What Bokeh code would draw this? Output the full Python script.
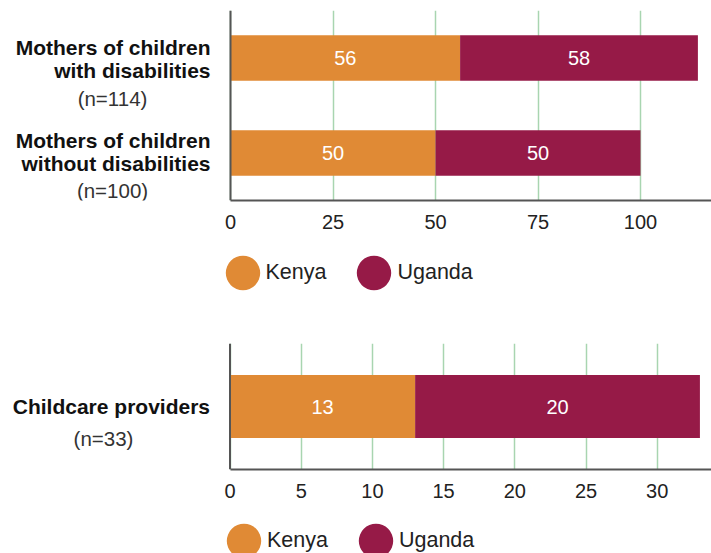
from bokeh.plotting import figure
from bokeh.models import Range1d, Label, Legend, LegendItem, ColumnDataSource, FixedTicker, Span
from bokeh.layouts import column
from bokeh.embed import file_html
from bokeh.resources import INLINE
from bokeh.core.properties import value

# ---- data ----
series = ["Kenya", "Uganda"]
colors = ["#E08A35", "#961A47"]

top_groups = ["Mothers of children|with disabilities", "Mothers of children|without disabilities"]
top_n = ["(n=114)", "(n=100)"]
top_kenya = [56, 50]
top_uganda = [58, 50]
top_ticks = [0, 25, 50, 75, 100]

bot_groups = ["Childcare providers"]
bot_n = ["(n=33)"]
bot_kenya = [13]
bot_uganda = [20]
bot_ticks = [0, 5, 10, 15, 20, 25, 30]

FONT = "Liberation Sans"
GRID = "#A8D5B0"
AXIS = "#555555"
W = 711


def make_chart(groups, ns, kenya, uganda, ticks, x0_px, px_per_unit, height, mb_top, mb_bottom,
               bar_h, n_x, row_offsets):
    n = len(groups)
    xmin = -x0_px / px_per_unit
    xmax = (W - x0_px) / px_per_unit
    p = figure(width=W, height=height, x_range=Range1d(xmin, xmax), y_range=Range1d(0, n),
               y_axis_type=None, output_backend="svg", toolbar_location=None,
               min_border_left=0, min_border_right=0,
               min_border_top=mb_top, min_border_bottom=mb_bottom)
    p.outline_line_color = None
    ys = [n - i - 0.5 for i in range(n)]
    tot = [k + u for k, u in zip(kenya, uganda)]
    src = ColumnDataSource(dict(y=ys, k=kenya, u=uganda, tot=tot,
                                kmid=[k / 2 for k in kenya],
                                umid=[k + u / 2 for k, u in zip(kenya, uganda)],
                                kt=[str(v) for v in kenya], ut=[str(v) for v in uganda],
                                zero=[0] * n))
    p.hbar(y="y", left="zero", right="k", height=bar_h, source=src,
           fill_color=colors[0], line_color=None)
    p.hbar(y="y", left="k", right="tot", height=bar_h, source=src,
           fill_color=colors[1], line_color=None)
    for xcol, tcol in (("kmid", "kt"), ("umid", "ut")):
        p.text(x=xcol, y="y", text=tcol, source=src, text_color="#FFFFFF",
               text_font=value(FONT), text_font_size="20px", text_align="center",
               text_baseline="middle")

    # x axis
    p.xaxis.ticker = FixedTicker(ticks=ticks)
    p.xaxis.bounds = (0, xmax)
    p.xaxis.major_tick_line_color = None
    p.xaxis.minor_tick_line_color = None
    p.xaxis.axis_line_color = AXIS
    p.xaxis.axis_line_width = 2
    p.xaxis.major_label_text_font = FONT
    p.xaxis.major_label_text_font_size = "20px"
    p.xaxis.major_label_text_color = "#222222"
    p.xaxis.major_label_standoff = 8
    p.xgrid.grid_line_color = GRID
    p.xgrid.grid_line_width = 1.5
    # y axis line at zero
    p.add_layout(Span(location=0, dimension="height", line_color=AXIS, line_width=2))

    # category labels
    for g, nn, y, offs in zip(groups, ns, ys, row_offsets):
        lines = g.split("|")
        for txt, off in zip(lines, offs[:-1]):
            p.add_layout(Label(x=x0_px - 20, y=y, x_units="screen", y_units="data", text=txt,
                               y_offset=-off, text_align="right", text_baseline="middle",
                               text_font=FONT, text_font_size="21px",
                               text_font_style="bold", text_color="#111111"))
        p.add_layout(Label(x=n_x, y=y, x_units="screen", y_units="data", text=nn,
                           y_offset=-offs[-1], text_align="center", text_baseline="middle",
                           text_font=FONT, text_font_size="20.5px", text_color="#333333"))
    return p


def make_legend(height, vx, vy):
    p = figure(width=W, height=height, x_axis_type=None, y_axis_type=None,
               x_range=Range1d(0, 1), y_range=Range1d(0, 1),
               output_backend="svg", toolbar_location=None,
               min_border=0)
    p.outline_line_color = None
    p.grid.grid_line_color = None
    # swatch glyphs kept outside the visible range; only their legend entries show
    rs = [p.ellipse(x=[-5], y=[-5], width=10, height=10, width_units="screen",
                    height_units="screen", fill_color=c, line_color=None)
          for c in colors]
    legend = Legend(items=[LegendItem(label=s, renderers=[r]) for s, r in zip(series, rs)],
                    orientation="horizontal", location=(vx, vy),
                    glyph_width=43, glyph_height=43, label_standoff=2, spacing=26,
                    padding=0, margin=0, border_line_color=None, background_fill_alpha=0,
                    label_text_font=FONT, label_text_font_size="21.5px",
                    label_text_color="#222222")
    p.add_layout(legend, "center")
    return p


top = make_chart(top_groups, top_n, top_kenya, top_uganda, top_ticks, 230, 4.1, 240, 10, 40,
                 0.48, 112, [[-11, 12.5, 40.5], [-12.5, 10.5, 37.5]])
leg1 = make_legend(60, 220.5, 6.5)
bot = make_chart(bot_groups, bot_n, bot_kenya, bot_uganda, bot_ticks, 229.5, 14.24, 210, 43, 41,
                 0.5, 103, [[0, 32]])
leg2 = make_legend(43, 222, -8.5)

layout = column(top, leg1, bot, leg2, spacing=0)
open("out.html", "w").write(file_html(layout, INLINE))
